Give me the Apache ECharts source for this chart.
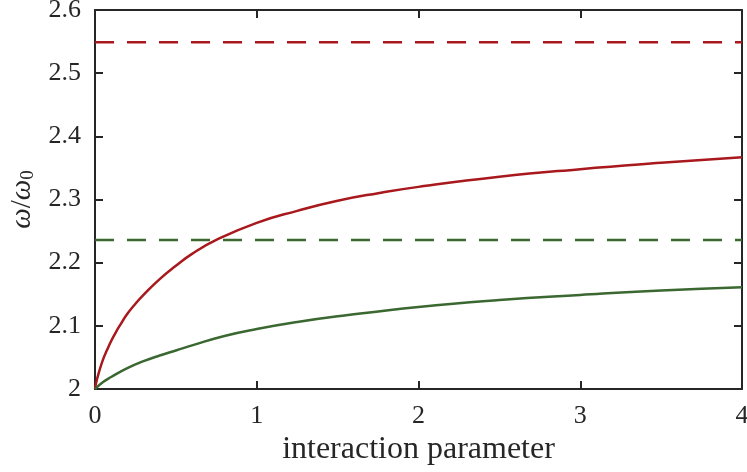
<!DOCTYPE html>
<html>
<head>
<meta charset="utf-8">
<script src="https://cdn.jsdelivr.net/npm/echarts@6/dist/echarts.min.js"></script>
<style>html,body{margin:0;padding:0;background:#fff;}#c{width:747px;height:472px;}</style>
</head>
<body>
<div id="c"></div>
<script>
// Data
const redX   = [0, 0.01, 0.025, 0.05, 0.075, 0.1, 0.125, 0.15, 0.2, 0.25, 0.3, 0.4, 0.5, 0.6, 0.75, 1.0, 1.25, 1.5, 1.75, 2.0, 2.5, 3.0, 3.5, 4.0];
const redY   = [2.000, 2.013, 2.027, 2.047, 2.062, 2.076, 2.088, 2.099, 2.119, 2.135, 2.149, 2.174, 2.195, 2.214, 2.236, 2.263, 2.282, 2.298, 2.310, 2.320, 2.336, 2.348, 2.358, 2.367];
const greenX = [0, 0.05, 0.1, 0.2, 0.3, 0.4, 0.5, 0.6, 0.8, 1.0, 1.25, 1.5, 2.0, 2.5, 3.0, 3.5, 4.0];
const greenY = [2.000, 2.011, 2.019, 2.033, 2.044, 2.053, 2.061, 2.069, 2.084, 2.095, 2.106, 2.115, 2.130, 2.141, 2.149, 2.156, 2.161];
const redLimit = 2.549;
const greenLimit = 2.236;
const xTicks = [0, 1, 2, 3, 4];
const yTicks = [2, 2.1, 2.2, 2.3, 2.4, 2.5, 2.6];
const xLabel = 'interaction parameter';

const zip = (xs, ys) => xs.map((x, i) => [x, ys[i]]);
const xMin = xTicks[0], xMax = xTicks[xTicks.length - 1];

const RED = '#a8181c', GREEN = '#3a6830', AX = '#262626';
const FONT = 'Liberation Serif';

const axisCommon = {
  axisLine: { show: true, onZero: false, lineStyle: { color: AX, width: 2 } },
  axisTick: { show: true, inside: true, length: 8, lineStyle: { color: AX, width: 2 } },
  splitLine: { show: false }
};

const chart = echarts.init(document.getElementById('c'), null, { renderer: 'canvas' });
chart.setOption({
  animation: false,
  backgroundColor: '#fff',
  grid: { left: 95, right: 5, top: 10, bottom: 83, containLabel: false, outerBoundsMode: 'none' },
  xAxis: [
    Object.assign({
      type: 'value', min: xMin, max: xMax, interval: 1, position: 'bottom',
      name: xLabel, nameLocation: 'middle', nameGap: 36,
      nameTextStyle: { fontFamily: FONT, fontSize: 32, color: AX },
      axisLabel: { fontFamily: FONT, fontSize: 26, color: AX, margin: 14 }
    }, axisCommon),
    Object.assign({
      type: 'value', min: xMin, max: xMax, interval: 1, position: 'top',
      axisLabel: { show: false }
    }, axisCommon)
  ],
  yAxis: [
    Object.assign({
      type: 'value', min: yTicks[0], max: yTicks[yTicks.length - 1], interval: 0.1, position: 'left',
      name: '{w|ω}{n|/}{w|ω}{s|0}', nameLocation: 'middle', nameGap: 53, nameRotate: 90,
      nameTextStyle: {
        fontFamily: FONT, fontSize: 29, color: AX,
        rich: {
          w: { fontFamily: FONT, fontSize: 29, fontStyle: 'italic', color: AX, lineHeight: 30 },
          n: { fontFamily: FONT, fontSize: 29, color: AX, lineHeight: 30 },
          s: { fontFamily: FONT, fontSize: 19, color: AX, lineHeight: 14, verticalAlign: 'bottom' }
        }
      },
      axisLabel: {
        fontFamily: FONT, fontSize: 26, color: AX, margin: 14,
        formatter: v => String(Math.round(v * 10) / 10)
      }
    }, axisCommon),
    Object.assign({
      type: 'value', min: yTicks[0], max: yTicks[yTicks.length - 1], interval: 0.1, position: 'right',
      axisLabel: { show: false }
    }, axisCommon)
  ],
  series: [
    {
      type: 'line', data: [[xMin, redLimit], [xMax, redLimit]], symbol: 'none',
      lineStyle: { color: RED, width: 2.5, type: [19, 13] }, z: 3
    },
    {
      type: 'line', data: [[xMin, greenLimit], [xMax, greenLimit]], symbol: 'none',
      lineStyle: { color: GREEN, width: 2.5, type: [19, 13] }, z: 3
    },
    {
      type: 'line', data: zip(redX, redY), symbol: 'none', smooth: 0.5,
      lineStyle: { color: RED, width: 2.5 }, z: 4
    },
    {
      type: 'line', data: zip(greenX, greenY), symbol: 'none', smooth: 0.5,
      lineStyle: { color: GREEN, width: 2.5 }, z: 4
    }
  ]
});
</script>
</body>
</html>
